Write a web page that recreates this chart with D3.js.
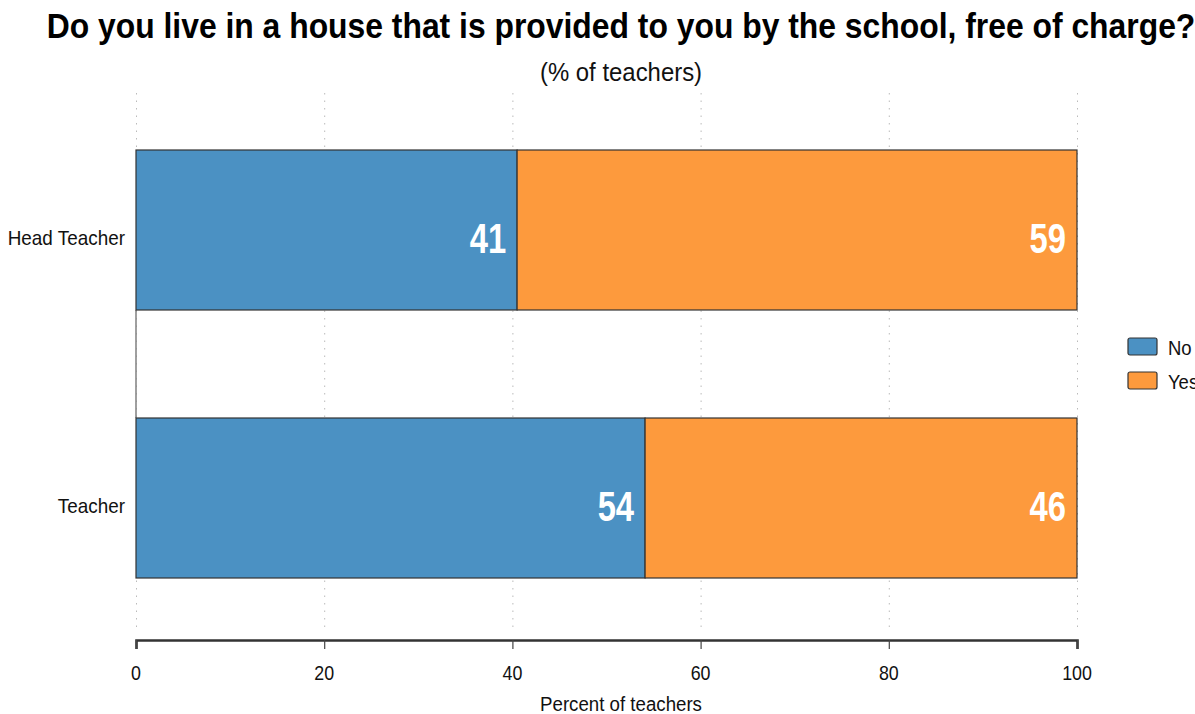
<!DOCTYPE html>
<html>
<head>
<meta charset="utf-8">
<script src="https://cdn.jsdelivr.net/npm/d3@7"></script>
<style>
body { margin: 0; background: #fff; }
svg { font-family: "Liberation Sans", Arial, sans-serif; }
.grid line { stroke: #bbb; stroke-dasharray: 1.5 6; }
.grid path { stroke-width: 0; }
</style>
</head>
<body>
<div id="chart"></div>
<script>
var categories = ["Head Teacher", "Teacher"];
var seriesNames = ["No", "Yes"];
var noValues = [40.5, 54.1];
var yesValues = [59.5, 45.9];
var noLabels = ["41", "54"];
var yesLabels = ["59", "46"];
var xTicks = [0, 20, 40, 60, 80, 100];

var width = 1195, height = 714;
var colors = {No: "#4b91c3", Yes: "#fd9a3d"};

var svg = d3.select("#chart").append("svg")
  .attr("width", width).attr("height", height);

var x = d3.scaleLinear().domain([0, 100]).range([136, 1077]);
var y = d3.scaleBand().domain(categories).range([96.4, 631.6]).paddingInner(0.403).paddingOuter(0.2);

// narrow text: position via translate, squeeze horizontally
function narrow(sel, px, py, sx) {
  return sel.attr("transform", function(d, i) {
    var xx = typeof px === "function" ? px(d, i) : px;
    var yy = typeof py === "function" ? py(d, i) : py;
    return "translate(" + xx + "," + yy + ") scale(" + sx + ",1)";
  });
}

// grid
svg.append("g")
  .attr("class", "grid")
  .attr("transform", "translate(0,93)")
  .call(d3.axisBottom(x).tickValues(xTicks).tickSize(540).tickFormat(""));

// line on left between bars
svg.append("line")
  .attr("x1", x(0)).attr("x2", x(0))
  .attr("y1", y(categories[0]) + y.bandwidth()).attr("y2", y(categories[1]))
  .attr("stroke", "#888").attr("stroke-width", 1.6);

var rows = categories.map(function(c, i) {
  return {cat: c, segs: [
    {s: "No", cat: c, x0: 0, x1: noValues[i], label: noLabels[i]},
    {s: "Yes", cat: c, x0: noValues[i], x1: noValues[i] + yesValues[i], label: yesLabels[i]}
  ]};
});

var g = svg.selectAll(".row").data(rows).enter().append("g");

g.selectAll("rect").data(function(d) { return d.segs; })
  .enter().append("rect")
  .attr("x", function(d) { return x(d.x0); })
  .attr("y", function(d) { return y(d.cat); })
  .attr("width", function(d) { return x(d.x1) - x(d.x0); })
  .attr("height", y.bandwidth())
  .attr("fill", function(d) { return colors[d.s]; })
  .attr("stroke", "#333").attr("stroke-width", 1.2);

narrow(g.selectAll("text.val").data(function(d) { return d.segs; })
  .enter().append("text")
  .attr("class", "val")
  .attr("text-anchor", "end")
  .attr("fill", "#fff").attr("font-weight", "bold").attr("font-size", 42)
  .text(function(d) { return d.label; }),
  function(d) { return x(d.x1) - 11; },
  function(d) { return y(d.cat) + y.bandwidth() / 2 + 23; }, 0.78);

// category labels
narrow(svg.selectAll(".cat").data(categories).enter().append("text")
  .attr("text-anchor", "end").attr("font-size", 21).attr("fill", "#111")
  .text(function(d) { return d; }),
  125, function(d) { return y(d) + y.bandwidth() / 2 + 15; }, 0.9);

// x axis
var ax = svg.append("g")
  .attr("transform", "translate(0,640)")
  .call(d3.axisBottom(x).tickValues(xTicks).tickSize(9).tickFormat(""));
ax.select(".domain").attr("stroke", "#333").attr("stroke-width", 2.6);
ax.selectAll(".tick line").attr("stroke", "#444").attr("stroke-width", 1.2);

narrow(svg.selectAll(".tlab").data(xTicks).enter().append("text")
  .attr("text-anchor", "middle").attr("font-size", 21).attr("fill", "#111")
  .text(function(d) { return d; }),
  function(d) { return x(d); }, 680, 0.85);

narrow(svg.append("text")
  .attr("text-anchor", "middle").attr("font-size", 21).attr("fill", "#111")
  .text("Percent of teachers"), 621, 711, 0.89);

// titles
narrow(svg.append("text")
  .attr("text-anchor", "middle").attr("font-size", 36).attr("font-weight", "bold").attr("fill", "#000")
  .text("Do you live in a house that is provided to you by the school, free of charge?"),
  621, 38, 0.885);
narrow(svg.append("text")
  .attr("text-anchor", "middle").attr("font-size", 26).attr("fill", "#111")
  .text("(% of teachers)"), 621, 81, 0.92);

// legend
var leg = svg.selectAll(".leg").data(seriesNames).enter().append("g")
  .attr("transform", function(d, i) { return "translate(1128," + (338 + i * 34) + ")"; });
leg.append("rect").attr("width", 29).attr("height", 17).attr("rx", 2)
  .attr("fill", function(d) { return colors[d]; })
  .attr("stroke", "#333").attr("stroke-width", 1.2);
narrow(leg.append("text").attr("font-size", 21).attr("fill", "#111")
  .text(function(d) { return d; }), 40, 17, 0.88);
</script>
</body>
</html>
